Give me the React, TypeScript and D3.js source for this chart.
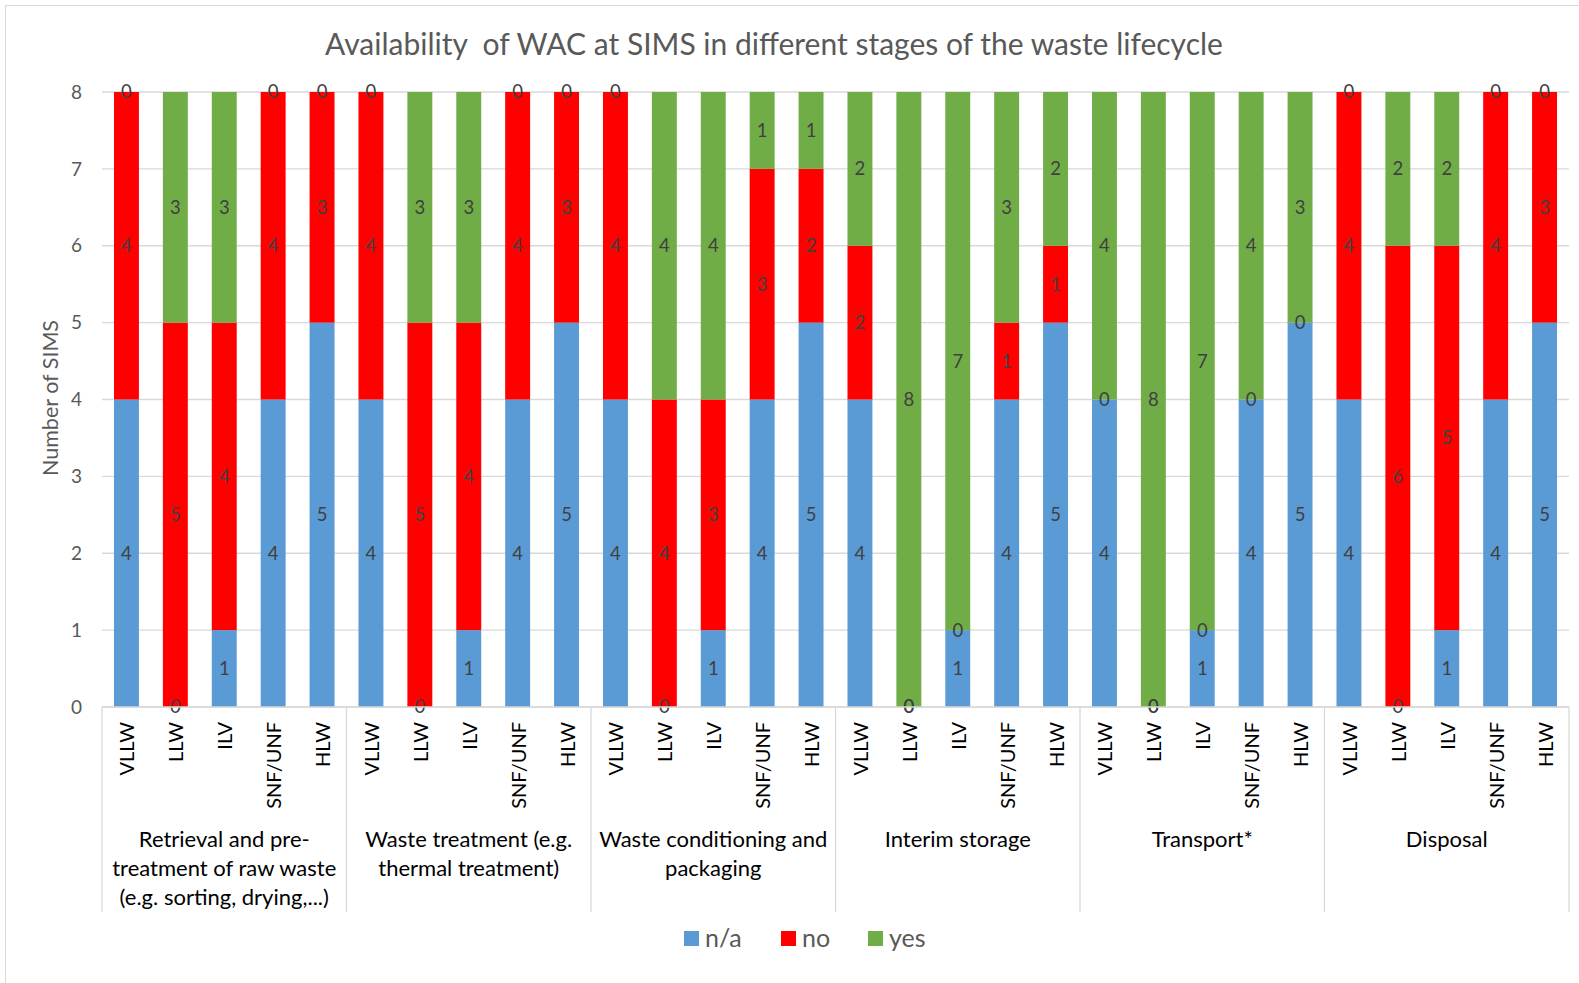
import * as d3 from 'd3';

// categories
const stages = [
  ['Retrieval and pre-', 'treatment of raw waste', '(e.g. sorting, drying,...)'],
  ['Waste treatment (e.g.', 'thermal treatment)'],
  ['Waste conditioning and', 'packaging'],
  ['Interim storage'],
  ['Transport*'],
  ['Disposal'],
];
const wasteTypes = ['VLLW', 'LLW', 'ILV', 'SNF/UNF', 'HLW'];
const seriesNames = ['n/a', 'no', 'yes'];
const seriesColors = ['#5B9BD5', '#FF0000', '#70AD47'];

// values per stage, in wasteTypes order
const naValues = [
  [4, 0, 1, 4, 5],
  [4, 0, 1, 4, 5],
  [4, 0, 1, 4, 5],
  [4, 0, 1, 4, 5],
  [4, 0, 1, 4, 5],
  [4, 0, 1, 4, 5],
];
const noValues = [
  [4, 5, 4, 4, 3],
  [4, 5, 4, 4, 3],
  [4, 4, 3, 3, 2],
  [2, 0, 0, 1, 1],
  [0, 0, 0, 0, 0],
  [4, 6, 5, 4, 3],
];
const yesValues = [
  [0, 3, 3, 0, 0],
  [0, 3, 3, 0, 0],
  [0, 4, 4, 1, 1],
  [2, 8, 7, 3, 2],
  [4, 8, 7, 4, 3],
  [0, 2, 2, 0, 0],
];
const yTicks = [0, 1, 2, 3, 4, 5, 6, 7, 8];

const W = 1579;
const H = 983;
const left = 102;
const right = 1569;
const top = 92;
const bottom = 707;
const font = 'Lato, Carlito, Calibri, sans-serif';

export default function App() {
  const rows = stages.flatMap((s, gi) =>
    wasteTypes.map((t, ti) => ({
      key: `${gi}-${ti}`,
      stage: gi,
      type: t,
      'n/a': naValues[gi][ti],
      no: noValues[gi][ti],
      yes: yesValues[gi][ti],
    }))
  );

  const x = d3.scaleBand<string>()
    .domain(rows.map(r => r.key))
    .range([left, right])
    .paddingInner(0.49)
    .paddingOuter(0.245);
  const groupX = d3.scaleBand<number>()
    .domain(stages.map((_, i) => i))
    .range([left, right]);
  const y = d3.scaleLinear().domain([0, 8]).range([bottom, top]);

  const stacked = d3.stack<any>().keys(seriesNames)(rows);

  return (
    <svg width={W} height={H} style={{ position: 'absolute', left: 0, top: 0, background: '#fff' }}>
      <rect x={5.5} y={5.5} width={W + 10} height={H + 10} fill="#fff" stroke="#D9D9D9" />

      <text x={774} y={55} textAnchor="middle" fontFamily={font} fontSize={30} fill="#595959" style={{ whiteSpace: 'pre' }}>
        {'Availability  of WAC at SIMS in different stages of the waste lifecycle'}
      </text>

      {/* gridlines */}
      {yTicks.map(t => (
        <g key={t}>
          <line x1={left} x2={right} y1={y(t)} y2={y(t)} stroke="#D9D9D9" strokeWidth={1.3} />
          <text x={82} y={y(t)} dy="0.35em" textAnchor="end" fontFamily={font} fontSize={19} fill="#595959">
            {t}
          </text>
        </g>
      ))}

      <text
        transform={`translate(50, 398) rotate(-90)`}
        textAnchor="middle"
        dominantBaseline="central"
        fontFamily={font}
        fontSize={21.5}
        fill="#595959"
      >
        Number of SIMS
      </text>

      {/* bars */}
      {stacked.map((layer, si) => (
        <g key={layer.key} fill={seriesColors[si]}>
          {layer.map((d, i) => (
            <rect
              key={i}
              x={x(rows[i].key)}
              y={y(d[1])}
              width={x.bandwidth()}
              height={y(d[0]) - y(d[1])}
            />
          ))}
        </g>
      ))}

      {/* data labels */}
      {stacked.map(layer => (
        <g key={'l' + layer.key}>
          {layer.map((d, i) => (
            <text
              key={i}
              x={(x(rows[i].key) ?? 0) + x.bandwidth() / 2}
              y={y((d[0] + d[1]) / 2)}
              dy="0.35em"
              textAnchor="middle"
              fontFamily={font}
              fontSize={18.5}
              fill="#404040"
            >
              {d[1] - d[0]}
            </text>
          ))}
        </g>
      ))}

      {/* category axis */}
      <line x1={left} x2={right} y1={bottom} y2={bottom} stroke="#D9D9D9" strokeWidth={1.3} />
      {d3.range(stages.length + 1).map(i => {
        const gx = i < stages.length ? groupX(i)! : right;
        return <line key={i} x1={gx} x2={gx} y1={bottom} y2={912} stroke="#D9D9D9" strokeWidth={1.3} />;
      })}
      {rows.map(r => (
        <text
          key={'t' + r.key}
          transform={`translate(${(x(r.key) ?? 0) + x.bandwidth() / 2}, 722) rotate(-90)`}
          textAnchor="end"
          dominantBaseline="central"
          fontFamily={font}
          fontSize={20}
          fill="#000"
        >
          {r.type}
        </text>
      ))}
      {stages.map((lines, gi) => (
        <text
          key={'g' + gi}
          x={groupX(gi)! + groupX.bandwidth() / 2}
          y={847}
          textAnchor="middle"
          fontFamily={font}
          fontSize={22}
          fill="#000"
        >
          {lines.map((ln, li) => (
            <tspan key={li} x={groupX(gi)! + groupX.bandwidth() / 2} dy={li === 0 ? 0 : 29}>
              {ln}
            </tspan>
          ))}
        </text>
      ))}

      {/* legend */}
      {seriesNames.map((s, i) => {
        const lx = [684, 781, 868][i];
        return (
          <g key={'lg' + s}>
            <rect x={lx} y={931} width={15} height={15} fill={seriesColors[i]} />
            <text x={lx + 21} y={938} dy="0.35em" fontFamily={font} fontSize={25} fill="#595959">
              {s}
            </text>
          </g>
        );
      })}
    </svg>
  );
}
